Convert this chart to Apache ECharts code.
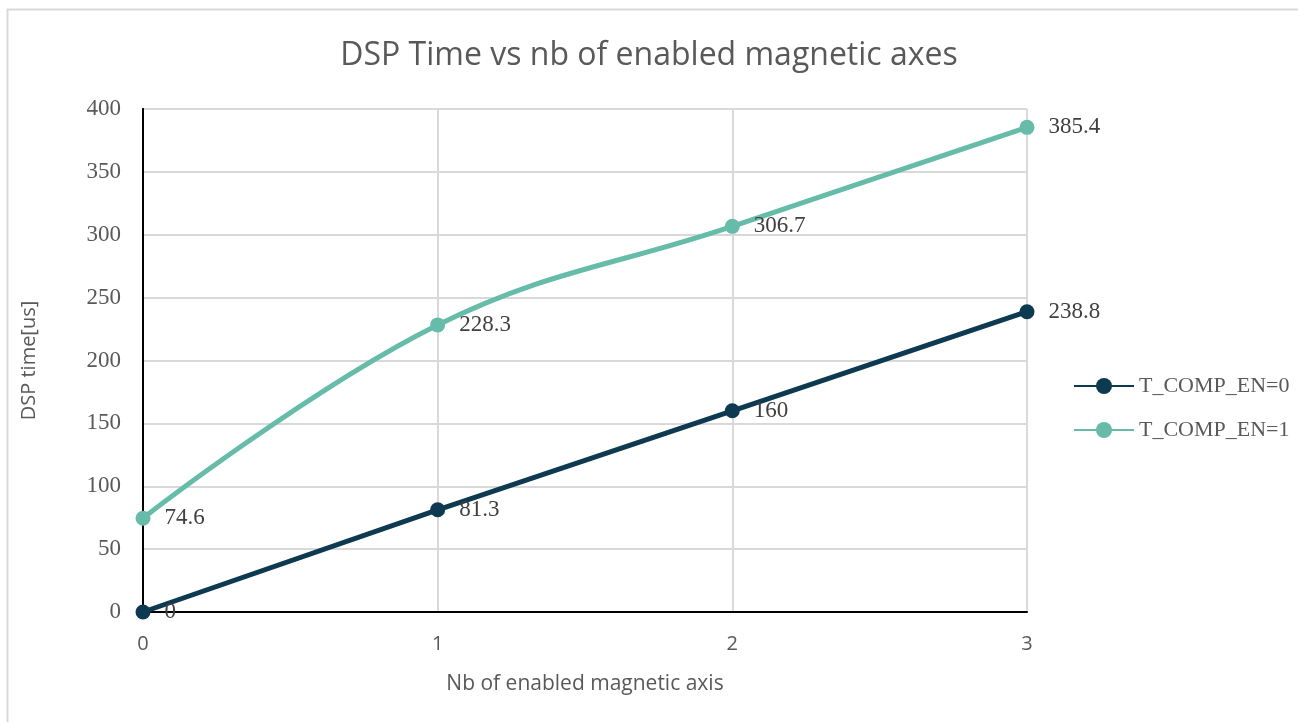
<!DOCTYPE html>
<html>
<head>
<meta charset="utf-8">
<script src="https://cdn.jsdelivr.net/npm/echarts@6/dist/echarts.min.js"></script>
<style>
  html, body { margin: 0; padding: 0; background: #fff; }
  #chart { width: 1298px; height: 722px; }
</style>
</head>
<body>
<div id="chart"></div>
<script>
// data
var xValues = [0, 1, 2, 3];
var compOff = [0, 81.3, 160, 238.8];
var compOn = [74.6, 228.3, 306.7, 385.4];
var seriesNames = ['T_COMP_EN=0', 'T_COMP_EN=1'];

function pairs(ys) {
    return xValues.map(function (x, i) { return [x, ys[i]]; });
}

var serif = 'Liberation Serif';
var sans = 'Open Sans';

var chart = echarts.init(document.getElementById('chart'));

var label = {
    show: true,
    position: 'right',
    distance: 14,
    fontFamily: serif,
    fontSize: 23,
    color: '#404040',
    formatter: function (p) { return p.value[1]; }
};

var option = {
    backgroundColor: '#fff',
    title: {
        text: 'DSP Time vs nb of enabled magnetic axes',
        left: 'center',
        top: 35,
        textStyle: { fontFamily: sans, fontSize: 32, fontWeight: 'normal', color: '#595959' }
    },
    graphic: [{
        type: 'rect',
        shape: { x: 7.5, y: 9.5, width: 1400, height: 800 },
        style: { fill: 'none', stroke: '#d9d9d9', lineWidth: 2 },
        silent: true
    }],
    legend: {
        orient: 'vertical',
        left: 1068,
        top: 370,
        itemWidth: 60,
        itemHeight: 20,
        itemGap: 22,
        textStyle: { fontFamily: serif, fontSize: 22, color: '#595959' },
        data: seriesNames
    },
    grid: { left: 143, right: 271, top: 109, bottom: 110 },
    xAxis: [{
        type: 'value', min: 0, max: 3, interval: 1,
        name: 'Nb of enabled magnetic axis',
        nameLocation: 'middle', nameGap: 62,
        nameTextStyle: { fontFamily: sans, fontSize: 21, color: '#595959' },
        axisLine: { lineStyle: { color: '#d9d9d9', width: 2 } },
        axisTick: { show: false },
        axisLabel: { fontFamily: sans, fontSize: 20, color: '#595959', margin: 22 },
        splitLine: { show: true, lineStyle: { color: '#d9d9d9', width: 2 } }
    }, {
        type: 'value', min: 0, max: 3, position: 'top',
        axisLine: { show: true, lineStyle: { color: '#000', width: 2 } },
        axisTick: { show: false }, axisLabel: { show: false }, splitLine: { show: false }
    }],
    yAxis: [{
        type: 'value', min: 0, max: 400, interval: 50,
        name: 'DSP time[us]',
        nameLocation: 'middle', nameGap: 104,
        nameTextStyle: { fontFamily: sans, fontSize: 20, color: '#595959' },
        axisLine: { show: true, lineStyle: { color: '#000', width: 2 } },
        axisTick: { show: false },
        axisLabel: { fontFamily: serif, fontSize: 23, color: '#595959', margin: 22 },
        splitLine: { show: true, lineStyle: { color: '#d9d9d9', width: 2 } }
    }, {
        type: 'value', min: 0, max: 400, position: 'right',
        axisLine: { show: true, lineStyle: { color: '#000', width: 2 } },
        axisTick: { show: false }, axisLabel: { show: false }, splitLine: { show: false }
    }],
    series: [{
        name: seriesNames[0],
        type: 'line',
        data: pairs(compOff),
        symbol: 'circle',
        symbolSize: 15,
        color: '#0d3a50',
        lineStyle: { width: 5 },
        label: label,
        z: 3
    }, {
        name: seriesNames[1],
        type: 'line',
        data: pairs(compOn),
        smooth: 0.4,
        symbol: 'circle',
        symbolSize: 15,
        color: '#66bca8',
        lineStyle: { width: 5 },
        label: label,
        z: 3
    }]
};

chart.setOption(option);
</script>
</body>
</html>
